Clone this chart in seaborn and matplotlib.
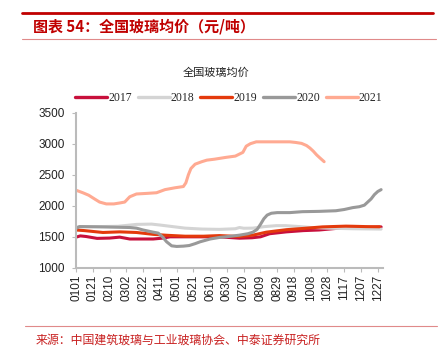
import matplotlib
matplotlib.use("Agg")
import matplotlib.pyplot as plt
from matplotlib.lines import Line2D
import seaborn as sns
import pandas as pd

# ---- data (day of year index, 0 = 01-01) ----
tick_days = list(range(0, 361, 20))
tick_labels = ["0101", "0121", "0210", "0302", "0322", "0411", "0501", "0521", "0610",
               "0630", "0720", "0809", "0829", "0918", "1008", "1028", "1117", "1207", "1227"]
years = ["2017", "2018", "2019", "2020", "2021"]

days_2017 = [0, 5, 12, 25, 40, 52, 58, 64, 80, 92, 104, 112, 140, 171, 195, 210, 220, 231, 251, 271, 290, 310, 330, 350, 364]
vals_2017 = [1495, 1515, 1505, 1475, 1480, 1495, 1480, 1465, 1465, 1465, 1480, 1500, 1500, 1500, 1478, 1485, 1500, 1550, 1580, 1600, 1610, 1635, 1645, 1650, 1660]

days_2018 = [0, 10, 30, 50, 72, 90, 100, 115, 130, 150, 171, 190, 195, 200, 211, 225, 239, 250, 267, 280, 300, 330, 364]
vals_2018 = [1658, 1665, 1665, 1670, 1700, 1705, 1690, 1665, 1640, 1625, 1620, 1630, 1650, 1638, 1640, 1665, 1680, 1680, 1665, 1650, 1640, 1630, 1625]

days_2019 = [0, 10, 32, 52, 72, 92, 108, 130, 152, 171, 195, 211, 227, 251, 271, 294, 305, 322, 330, 345, 362]
vals_2019 = [1610, 1600, 1570, 1580, 1570, 1540, 1525, 1510, 1510, 1520, 1505, 1527, 1575, 1615, 1635, 1660, 1665, 1672, 1670, 1665, 1662]

days_2020 = [0, 4, 30, 64, 72, 80, 92, 98, 103, 108, 114, 120, 128, 135, 142, 148, 160, 171, 185, 195, 205, 211, 216, 220, 224, 228, 233, 240, 255, 270, 290, 310, 320, 330, 338, 344, 348, 352, 356, 360, 364]
vals_2020 = [1635, 1665, 1660, 1650, 1640, 1610, 1575, 1560, 1500, 1420, 1355, 1345, 1350, 1360, 1390, 1420, 1465, 1490, 1510, 1527, 1550, 1575, 1620, 1700, 1790, 1850, 1880, 1890, 1890, 1905, 1910, 1920, 1940, 1970, 1985, 2010, 2060, 2110, 2180, 2230, 2260]

days_2021 = [0, 8, 15, 22, 28, 36, 45, 52, 58, 64, 72, 85, 96, 106, 118, 128, 131, 134, 137, 142, 150, 156, 165, 179, 190, 199, 203, 208, 215, 230, 245, 255, 262, 269, 275, 279, 283, 287, 291, 296]
vals_2021 = [2250, 2210, 2170, 2110, 2060, 2030, 2030, 2045, 2060, 2145, 2190, 2200, 2210, 2260, 2290, 2310, 2370, 2500, 2600, 2670, 2710, 2735, 2750, 2780, 2800, 2860, 2960, 3000, 3030, 3030, 3030, 3030, 3020, 3005, 2970, 2930, 2880, 2820, 2770, 2710]

series = {
    "2017": (days_2017, vals_2017),
    "2018": (days_2018, vals_2018),
    "2019": (days_2019, vals_2019),
    "2020": (days_2020, vals_2020),
    "2021": (days_2021, vals_2021),
}
rows = []
for y in years:
    d, v = series[y]
    for a, b in zip(d, v):
        rows.append({"day": a, "price": b, "year": y})
df = pd.DataFrame(rows)

colors = {"2017": "#C8103C", "2018": "#D4D4D4", "2019": "#E43A0C", "2020": "#999999", "2021": "#FFAA92"}

sns.set_theme(style="white")
plt.rcParams["font.family"] = ["Liberation Sans", "Noto Sans CJK SC", "DejaVu Sans"]

fig = plt.figure(figsize=(4.4, 3.52), dpi=100)
ax = fig.add_axes([0.173, 0.239, 0.697, 0.441])

sns.lineplot(data=df, x="day", y="price", hue="year", hue_order=years, palette=colors,
             linewidth=2.2, estimator=None, sort=True, ax=ax, legend=False)

ax.set_xlim(0, 366)
ax.set_ylim(1000, 3500)
ax.set_yticks([1000, 1500, 2000, 2500, 3000, 3500])
ax.set_xticks(tick_days)
ax.set_xticklabels(tick_labels, rotation=90)
ax.tick_params(axis="both", which="both", labelsize=8.5, colors="#222222", length=3, width=0.8,
               direction="out", bottom=True, left=True)
ax.tick_params(axis="y", pad=5)
ax.tick_params(axis="x", pad=2)
for t in ax.get_xticklabels() + ax.get_yticklabels():
    t.set_color("#222222")
ax.set_xlabel("")
ax.set_ylabel("")
for s in ["top", "right"]:
    ax.spines[s].set_visible(False)
for s in ["left", "bottom"]:
    ax.spines[s].set_color("#BBBBBB")
    ax.spines[s].set_linewidth(1.5)
ax.tick_params(axis="both", color="#BBBBBB")

handles = [Line2D([0], [0], color=colors[y], lw=2.4) for y in years]
leg = fig.legend(handles, years, loc="center", bbox_to_anchor=(0.52, 0.722), ncol=5, frameon=False,
                 prop={"family": "Liberation Serif", "size": 8.5}, handlelength=2.7,
                 handletextpad=0.1, columnspacing=0.5, borderaxespad=0)

fig.text(0.49, 0.793, "全国玻璃均价", ha="center", va="center", fontsize=8,
         family=["Noto Sans CJK SC", "DejaVu Sans"], color="#222222")

# header
fig.add_artist(Line2D([0.05, 0.984], [0.963, 0.963], color="#C00000", lw=2.0, transform=fig.transFigure))
fig.add_artist(Line2D([0.05, 0.99], [0.889, 0.889], color="#E08A8A", lw=0.8, transform=fig.transFigure))
fig.text(0.075, 0.925, "图表 54：全国玻璃均价（元/吨）", ha="left", va="center", fontsize=10.8,
         fontweight="bold", fontstyle="italic", color="#C00000",
         family=["Noto Sans CJK SC", "DejaVu Sans"])

# footer
fig.add_artist(Line2D([0.057, 0.993], [0.074, 0.074], color="#E08A8A", lw=0.8, transform=fig.transFigure))
fig.text(0.08, 0.034, "来源：中国建筑玻璃与工业玻璃协会、中泰证券研究所", ha="left", va="center",
         fontsize=8.6, color="#C82020", family=["Noto Sans CJK SC", "DejaVu Sans"])

fig.savefig("out.png", dpi=100)
